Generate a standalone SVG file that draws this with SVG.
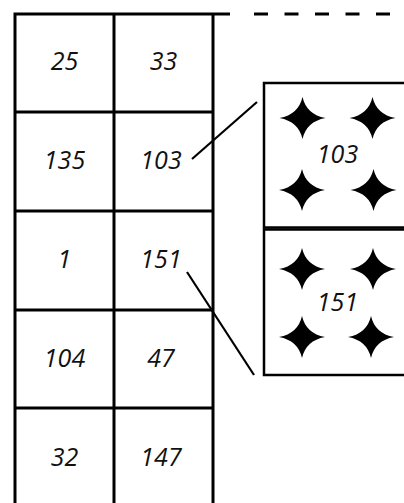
<svg xmlns="http://www.w3.org/2000/svg" xmlns:xlink="http://www.w3.org/1999/xlink" width="404" height="503" viewBox="0 0 404 503">
<style>
.grid{fill:none;stroke:#000;stroke-width:3}
.box{fill:#fff;stroke:#000;stroke-width:2.5}
.conn{fill:none;stroke:#000;stroke-width:2.2}
.lbl{font-family:"Open Sans","Liberation Sans",sans-serif;font-style:italic;font-size:25px;fill:#111;text-anchor:middle}
.star{fill:#000}
</style>
<defs>
<path id="star" class="star" d="M23,0 Q4,3.5 0,21 Q-4,3.5 -23,0 Q-4,-3.5 0,-21 Q4,-3.5 23,0 Z"/>
</defs>
<rect width="404" height="503" fill="#fff"/>
<g id="grid">
<path class="grid" d="M15,505 V14 H230 M114,14 V505 M213,14 V505 M15,112 H213 M15,211 H213 M15,310 H213 M15,408 H213"/>
<path class="grid" d="M254,14 H404" stroke-dasharray="14 16.5"/>
</g>
<g id="cell-25"><text class="lbl" x="64.5" y="70">25</text></g>
<g id="cell-33"><text class="lbl" x="163.5" y="70">33</text></g>
<g id="cell-135"><text class="lbl" x="64.5" y="169">135</text></g>
<g id="cell-103"><text class="lbl" x="161" y="169">103</text></g>
<g id="cell-1"><text class="lbl" x="64.5" y="268">1</text></g>
<g id="cell-151"><text class="lbl" x="161" y="268">151</text></g>
<g id="cell-104"><text class="lbl" x="64.5" y="367">104</text></g>
<g id="cell-47"><text class="lbl" x="161" y="367">47</text></g>
<g id="cell-32"><text class="lbl" x="64.5" y="466">32</text></g>
<g id="cell-147"><text class="lbl" x="161" y="466">147</text></g>
<g id="box-103">
<rect class="box" x="264" y="83" width="150" height="144.5"/>
<use xlink:href="#star" x="302.5" y="118"/>
<use xlink:href="#star" x="372.5" y="118"/>
<use xlink:href="#star" x="302" y="190"/>
<use xlink:href="#star" x="373.5" y="190"/>
<text class="lbl" x="337.5" y="163">103</text>
</g>
<g id="box-151">
<rect class="box" x="264" y="229.5" width="150" height="145.5"/>
<use xlink:href="#star" x="302" y="269"/>
<use xlink:href="#star" x="373" y="269"/>
<use xlink:href="#star" x="302" y="337"/>
<use xlink:href="#star" x="371" y="337"/>
<text class="lbl" x="337.5" y="311">151</text>
</g>
<g id="connectors">
<line class="conn" x1="192" y1="159" x2="257" y2="102"/>
<line class="conn" x1="187" y1="272" x2="254" y2="375"/>
</g>
</svg>
